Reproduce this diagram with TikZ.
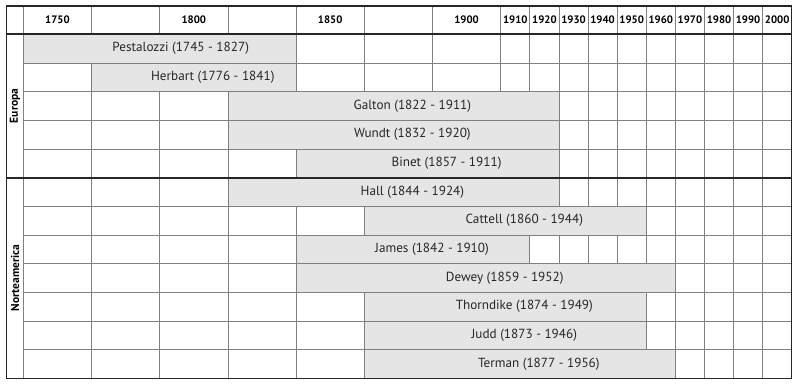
\documentclass[tikz,border=0pt]{standalone}
\usepackage{fontspec}
\setmainfont{PT Sans}
\usepackage{tikz}
\definecolor{barfill}{gray}{0.90}
\definecolor{gridgray}{gray}{0.50}
\definecolor{framegray}{gray}{0.15}
\tikzset{
	% ---- default
	every path/.style={line width=0.3pt},
	every node/.style={font=\normalsize, inner sep=0pt},
	% ---- custom
	gridline/.style={line width=0.8pt, gridgray},
	frameline/.style={line width=1.3pt, framegray},
	sepline/.style={line width=2pt, framegray},
	bar/.style={fill=barfill, draw=gridgray, line width=0.8pt},
	barlabel/.style={font=\fontsize{13.2}{15}\selectfont, text=black!85, xshift=19pt},
	year/.style={font=\fontsize{10.8}{12}\selectfont\bfseries},
	region/.style={font=\fontsize{11.5}{13}\selectfont\bfseries, rotate=90},
}

\begin{document}
\begin{tikzpicture}[x=1pt, y=-1pt]

% bounding box %{{{2

	\useasboundingbox (0,0) rectangle (800,384);

% grid %{{{2

	\draw[gridline] (23.3,6) -- (23.3,378.3);
	\draw[gridline] (91.5,6) -- (91.5,378.3);
	\draw[gridline] (159.7,6) -- (159.7,378.3);
	\draw[gridline] (227.9,6) -- (227.9,378.3);
	\draw[gridline] (296.1,6) -- (296.1,378.3);
	\draw[gridline] (364.3,6) -- (364.3,378.3);
	\draw[gridline] (432.5,6) -- (432.5,378.3);
	\draw[gridline] (500.7,6) -- (500.7,378.3);
	\draw[gridline] (529.8,6) -- (529.8,378.3);
	\draw[gridline] (558.9,6) -- (558.9,378.3);
	\draw[gridline] (588.0,6) -- (588.0,378.3);
	\draw[gridline] (617.1,6) -- (617.1,378.3);
	\draw[gridline] (646.2,6) -- (646.2,378.3);
	\draw[gridline] (675.3,6) -- (675.3,378.3);
	\draw[gridline] (704.4,6) -- (704.4,378.3);
	\draw[gridline] (733.5,6) -- (733.5,378.3);
	\draw[gridline] (762.6,6) -- (762.6,378.3);

	\draw[gridline] (23.3,63.0) -- (791.7,63.0);
	\draw[gridline] (23.3,91.7) -- (791.7,91.7);
	\draw[gridline] (23.3,120.3) -- (791.7,120.3);
	\draw[gridline] (23.3,149.0) -- (791.7,149.0);
	\draw[gridline] (23.3,206.3) -- (791.7,206.3);
	\draw[gridline] (23.3,235.0) -- (791.7,235.0);
	\draw[gridline] (23.3,263.7) -- (791.7,263.7);
	\draw[gridline] (23.3,292.3) -- (791.7,292.3);
	\draw[gridline] (23.3,321.0) -- (791.7,321.0);
	\draw[gridline] (23.3,349.7) -- (791.7,349.7);

% bars %{{{2

	\draw[bar] (23.3,34.3) rectangle (296.1,63.0);
	\draw[bar] (91.5,63.0) rectangle (296.1,91.7);
	\draw[bar] (227.9,91.7) rectangle (558.9,120.3);
	\draw[bar] (227.9,120.3) rectangle (558.9,149.0);
	\draw[bar] (296.1,149.0) rectangle (558.9,177.7);
	\draw[bar] (227.9,177.7) rectangle (558.9,206.3);
	\draw[bar] (364.3,206.3) rectangle (646.2,235.0);
	\draw[bar] (296.1,235.0) rectangle (529.8,263.7);
	\draw[bar] (296.1,263.7) rectangle (675.3,292.3);
	\draw[bar] (364.3,292.3) rectangle (646.2,321.0);
	\draw[bar] (364.3,321.0) rectangle (646.2,349.7);
	\draw[bar] (364.3,349.7) rectangle (675.3,378.3);

% frame %{{{2

	\draw[frameline] (6.7,6) rectangle (791.7,378.3);
	\draw[sepline] (6.7,34.3) -- (791.7,34.3);
	\draw[sepline] (6.7,177.7) -- (791.7,177.7);

% years %{{{2

	\node[year] (y1750) at (57.4,20.2) {1750};
	\node[year] (y1800) at (193.8,20.2) {1800};
	\node[year] (y1850) at (330.2,20.2) {1850};
	\node[year] (y1900) at (466.6,20.2) {1900};
	\node[year] (y1910) at (515.3,20.2) {1910};
	\node[year] (y1920) at (544.4,20.2) {1920};
	\node[year] (y1930) at (573.5,20.2) {1930};
	\node[year] (y1940) at (602.6,20.2) {1940};
	\node[year] (y1950) at (631.7,20.2) {1950};
	\node[year] (y1960) at (660.8,20.2) {1960};
	\node[year] (y1970) at (689.9,20.2) {1970};
	\node[year] (y1980) at (719.0,20.2) {1980};
	\node[year] (y1990) at (748.1,20.2) {1990};
	\node[year] (y2000) at (777.2,20.2) {2000};

% regions %{{{2

	\node[region] (europa) at (15,106.0) {Europa};
	\node[region] (norteamerica) at (15,278.0) {Norteamerica};

% bar labels %{{{2

	\node[barlabel] (pestalozzi) at (161.7,48.7) {Pestalozzi (1745 - 1827)};
	\node[barlabel] (herbart) at (193.8,77.3) {Herbart (1776 - 1841)};
	\node[barlabel] (galton) at (393.4,106.0) {Galton (1822 - 1911)};
	\node[barlabel] (wundt) at (393.4,134.7) {Wundt (1832 - 1920)};
	\node[barlabel] (binet) at (427.5,163.3) {Binet (1857 - 1911)};
	\node[barlabel] (hall) at (393.4,192.0) {Hall (1844 - 1924)};
	\node[barlabel] (cattell) at (505.3,220.7) {Cattell (1860 - 1944)};
	\node[barlabel] (james) at (413.0,249.3) {James (1842 - 1910)};
	\node[barlabel] (dewey) at (485.7,278.0) {Dewey (1859 - 1952)};
	\node[barlabel] (thorndike) at (505.3,306.7) {Thorndike (1874 - 1949)};
	\node[barlabel] (judd) at (505.3,335.3) {Judd (1873 - 1946)};
	\node[barlabel] (terman) at (519.8,364.0) {Terman (1877 - 1956)};

% closing %{{{2

\end{tikzpicture}
\end{document}
